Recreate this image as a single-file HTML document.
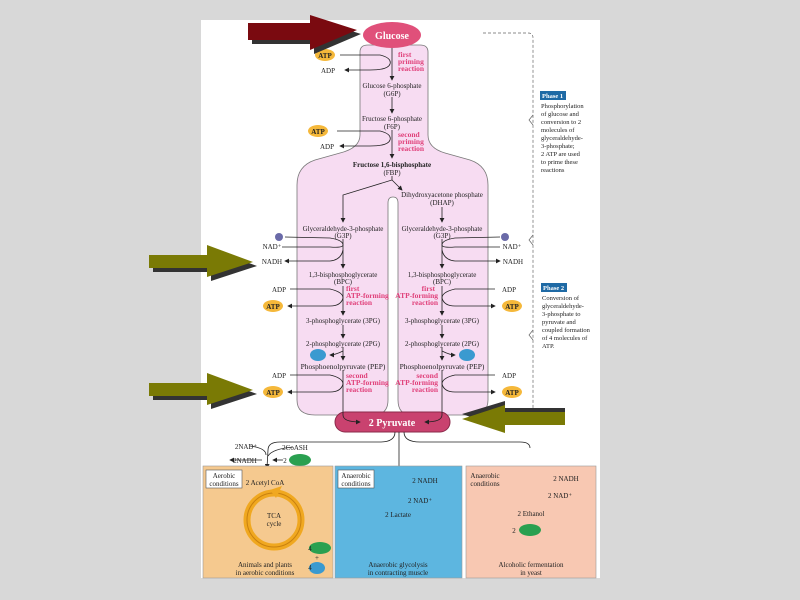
<!DOCTYPE html>
<html><head><meta charset="utf-8"><style>
html,body{margin:0;padding:0;background:#d9d9d9;}
svg{display:block;}
text{font-family:"Liberation Serif",serif;}
</style></head><body>
<svg width="800" height="600" viewBox="0 0 800 600" xmlns="http://www.w3.org/2000/svg">
<defs>
<marker id="ah" markerWidth="6" markerHeight="6" refX="5" refY="3" orient="auto"><path d="M0,0 L6,3 L0,6z" fill="#222"/></marker>
</defs>
<rect width="800" height="600" fill="#d8d8d8"/>
<rect x="201" y="20" width="399" height="558" fill="#fff"/>
<path d="M360,52 Q360,45 368,45 L420,45 Q428,45 428,52 L428,135 Q428,148 445,153 L470,160 Q488,166 488,185 L488,400 Q488,415 470,415 L412,415 Q398,415 398,400 L398,203 Q398,197 393,197 Q388,197 388,203 L388,400 Q388,415 373,415 L315,415 Q297,415 297,400 L297,185 Q297,166 315,160 L340,153 Q360,148 360,135 Z" fill="#f7dcf2" stroke="#777" stroke-width="0.8"/>
<path d="M483,33 L528,33 Q533,33 533,38 L533,410" fill="none" stroke="#666" stroke-width="0.7" stroke-dasharray="3,2"/>
<path d="M533,115 L529,120 L533,125 M533,235 L529,240 L533,245 M533,330 L529,335 L533,340" fill="none" stroke="#666" stroke-width="0.7"/>
<ellipse cx="392" cy="35" rx="29" ry="13" fill="#e0507a"/>
<text x="392" y="39" font-size="10" fill="#fff" text-anchor="middle" font-weight="bold">Glucose</text>
<rect x="335" y="412" width="115" height="20" rx="10" fill="#c9426f" stroke="#8a2a4a"/>
<text x="392" y="426" font-size="10" fill="#fff" text-anchor="middle" font-weight="bold">2 Pyruvate</text>
<g stroke="#222" stroke-width="0.8" fill="none">
<line x1="392" y1="48" x2="392" y2="80" marker-end="url(#ah)"/>
<line x1="392" y1="97" x2="392" y2="113" marker-end="url(#ah)"/>
<line x1="392" y1="130" x2="392" y2="158" marker-end="url(#ah)"/>
<path d="M392,176 L392,180 L343,195 L343,222" marker-end="url(#ah)"/>
<path d="M392,180 L402,190" marker-end="url(#ah)"/>
<line x1="442" y1="207" x2="442" y2="222" marker-end="url(#ah)"/>
<line x1="343" y1="239" x2="343" y2="268" marker-end="url(#ah)"/>
<line x1="442" y1="239" x2="442" y2="268" marker-end="url(#ah)"/>
<line x1="343" y1="286" x2="343" y2="315" marker-end="url(#ah)"/>
<line x1="442" y1="286" x2="442" y2="315" marker-end="url(#ah)"/>
<line x1="343" y1="325" x2="343" y2="338" marker-end="url(#ah)"/>
<line x1="442" y1="325" x2="442" y2="338" marker-end="url(#ah)"/>
<line x1="343" y1="347" x2="343" y2="360" marker-end="url(#ah)"/>
<line x1="442" y1="347" x2="442" y2="360" marker-end="url(#ah)"/>
<path d="M343,370 L343,415 Q343,422 360,422" marker-end="url(#ah)"/>
<path d="M442,370 L442,415 Q442,422 425,422" marker-end="url(#ah)"/>
<path d="M340,55 L380,55 Q392,58 390,64 Q388,70 370,70 L345,70" marker-end="url(#ah)"/>
<path d="M337,131 L380,131 Q392,134 390,140 Q388,146 370,146 L340,146" marker-end="url(#ah)"/>
<path d="M285,237 L330,238 Q343,240 343,245 Q343,248 330,247 L282,247" />
<path d="M343,250 Q341,260 330,261 L285,261" marker-end="url(#ah)"/>
<path d="M500,237 L455,238 Q442,240 442,245 Q442,248 455,247 L500,247"/>
<path d="M442,250 Q444,260 455,261 L500,261" marker-end="url(#ah)"/>
<path d="M290,289 L330,289 Q343,292 343,298 Q341,306 330,306 L288,306" marker-end="url(#ah)"/>
<path d="M495,289 L455,289 Q442,292 442,298 Q444,306 455,306 L495,306" marker-end="url(#ah)"/>
<path d="M343,351 Q335,355 330,355" marker-end="url(#ah)"/>
<path d="M442,351 Q450,355 455,355" marker-end="url(#ah)"/>
<path d="M290,375 L330,375 Q343,378 343,384 Q341,392 330,392 L288,392" marker-end="url(#ah)"/>
<path d="M495,375 L455,375 Q442,378 442,384 Q444,392 455,392 L495,392" marker-end="url(#ah)"/>
<line x1="399" y1="432" x2="399" y2="512" marker-end="url(#ah)"/>
<path d="M395,432 Q395,442 380,442 L280,442 Q268,442 268,450 L267,468" marker-end="url(#ah)"/>
<path d="M404,432 Q404,442 420,442 L520,442 Q530,442 530,448"/>
<path d="M250,446 Q266,448 266,455 M293,447 Q272,449 268,456"/>
<path d="M262,460 L230,460" marker-end="url(#ah)"/>
<path d="M283,460 L273,460" marker-end="url(#ah)"/>
<path d="M415,482 Q400,486 398,492 Q398,500 410,500" marker-end="url(#ah)"/>
<path d="M550,478 Q530,480 530,490 Q532,494 540,495" marker-end="url(#ah)"/>
<line x1="530" y1="500" x2="530" y2="507" marker-end="url(#ah)"/>
</g>
<g font-size="7.5" fill="#e0407a" font-weight="bold">
<text x="398" y="57">first</text><text x="398" y="64">priming</text><text x="398" y="71">reaction</text>
<text x="398" y="137">second</text><text x="398" y="144">priming</text><text x="398" y="151">reaction</text>
<text x="346" y="291">first</text><text x="346" y="298">ATP-forming</text><text x="346" y="305">reaction</text>
<text x="435" y="291" text-anchor="end">first</text><text x="438" y="298" text-anchor="end">ATP-forming</text><text x="438" y="305" text-anchor="end">reaction</text>
<text x="346" y="378">second</text><text x="346" y="385">ATP-forming</text><text x="346" y="392">reaction</text>
<text x="438" y="378" text-anchor="end">second</text><text x="438" y="385" text-anchor="end">ATP-forming</text><text x="438" y="392" text-anchor="end">reaction</text>
</g>
<g font-size="7" fill="#222" text-anchor="middle">
<text x="392" y="88">Glucose 6-phosphate</text><text x="392" y="96">(G6P)</text>
<text x="392" y="121">Fructose 6-phosphate</text><text x="392" y="129">(F6P)</text>
<text x="392" y="167" font-weight="bold">Fructose 1,6-bisphosphate</text><text x="392" y="175">(FBP)</text>
<text x="442" y="197">Dihydroxyacetone phosphate</text><text x="442" y="205">(DHAP)</text>
<text x="343" y="231">Glyceraldehyde-3-phosphate</text><text x="343" y="238">(G3P)</text>
<text x="442" y="231">Glyceraldehyde-3-phosphate</text><text x="442" y="238">(G3P)</text>
<text x="343" y="277">1,3-bisphosphoglycerate</text><text x="343" y="284">(BPC)</text>
<text x="442" y="277">1,3-bisphosphoglycerate</text><text x="442" y="284">(BPC)</text>
<text x="343" y="323">3-phosphoglycerate (3PG)</text>
<text x="442" y="323">3-phosphoglycerate (3PG)</text>
<text x="343" y="346">2-phosphoglycerate (2PG)</text>
<text x="442" y="346">2-phosphoglycerate (2PG)</text>
<text x="343" y="369" font-size="7.5">Phosphoenolpyruvate (PEP)</text>
<text x="442" y="369" font-size="7.5">Phosphoenolpyruvate (PEP)</text>
<text x="328" y="73">ADP</text><text x="327" y="149">ADP</text>
<text x="272" y="249">NAD⁺</text><text x="272" y="264">NADH</text>
<text x="512" y="249">NAD⁺</text><text x="513" y="264">NADH</text>
<text x="279" y="292">ADP</text><text x="509" y="292">ADP</text>
<text x="279" y="378">ADP</text><text x="509" y="378">ADP</text>
<text x="246" y="449">2NAD⁺</text><text x="295" y="450">2CoASH</text><text x="245" y="463">2NADH</text><text x="285" y="463">2</text>
</g>
<g font-size="7" fill="#222" text-anchor="middle" font-weight="bold">
<ellipse cx="325" cy="55" rx="10" ry="6" fill="#f5b83a"/><text x="325" y="58">ATP</text>
<ellipse cx="318" cy="131" rx="10" ry="6" fill="#f5b83a"/><text x="318" y="134">ATP</text>
<ellipse cx="273" cy="306" rx="10" ry="6" fill="#f5b83a"/><text x="273" y="309">ATP</text>
<ellipse cx="512" cy="306" rx="10" ry="6" fill="#f5b83a"/><text x="512" y="309">ATP</text>
<ellipse cx="273" cy="392" rx="10" ry="6" fill="#f5b83a"/><text x="273" y="395">ATP</text>
<ellipse cx="512" cy="392" rx="10" ry="6" fill="#f5b83a"/><text x="512" y="395">ATP</text>
</g>
<circle cx="279" cy="237" r="4" fill="#6a6aa8"/><circle cx="505" cy="237" r="4" fill="#6a6aa8"/>
<ellipse cx="318" cy="355" rx="8" ry="6" fill="#3a9ad0"/><ellipse cx="467" cy="355" rx="8" ry="6" fill="#3a9ad0"/>
<ellipse cx="300" cy="460" rx="11" ry="6" fill="#2aa050"/>
<rect x="203" y="466" width="130" height="112" fill="#f5c98f" stroke="#999" stroke-width="0.6"/>
<rect x="335" y="466" width="127" height="112" fill="#5db6e0" stroke="#999" stroke-width="0.6"/>
<rect x="466" y="466" width="130" height="112" fill="#f8c8b2" stroke="#999" stroke-width="0.6"/>
<rect x="206" y="470" width="36" height="18" fill="#fff" stroke="#555" stroke-width="0.6"/>
<rect x="338" y="470" width="36" height="18" fill="#fff" stroke="#555" stroke-width="0.6"/>
<circle cx="274" cy="520" r="27" fill="none" stroke="#f0a820" stroke-width="7"/>
<circle cx="274" cy="520" r="27" fill="none" stroke="#c88010" stroke-width="1"/>
<path d="M270,490 L282,486 L276,498z" fill="#f0a820"/>
<ellipse cx="320" cy="548" rx="11" ry="6" fill="#2aa050"/>
<ellipse cx="317" cy="568" rx="8" ry="6" fill="#3a9ad0"/>
<ellipse cx="530" cy="530" rx="11" ry="6" fill="#2aa050"/>
<g font-size="7" fill="#222" text-anchor="middle">
<text x="224" y="478">Aerobic</text><text x="224" y="486">conditions</text>
<text x="356" y="478">Anaerobic</text><text x="356" y="486">conditions</text>
<text x="485" y="478">Anaerobic</text><text x="485" y="486">conditions</text>
<text x="265" y="485">2 Acetyl CoA</text>
<text x="274" y="518">TCA</text><text x="274" y="526">cycle</text>
<text x="310" y="551">4</text><text x="310" y="570">4</text><text x="317" y="560">+</text>
<text x="265" y="567">Animals and plants</text><text x="265" y="575">in aerobic conditions</text>
<text x="425" y="483">2 NADH</text><text x="420" y="503">2 NAD⁺</text>
<text x="398" y="517">2 Lactate</text>
<text x="398" y="567">Anaerobic glycolysis</text><text x="398" y="575">in contracting muscle</text>
<text x="566" y="481">2 NADH</text><text x="560" y="498">2 NAD⁺</text>
<text x="531" y="516">2 Ethanol</text><text x="514" y="533">2</text>
<text x="531" y="567">Alcoholic fermentation</text><text x="531" y="575">in yeast</text>
</g>
<rect x="540" y="91" width="26" height="9" fill="#1f6aa5"/>
<text x="542" y="98" font-size="6.5" fill="#fff" font-weight="bold">Phase 1</text>
<g font-size="6.5" fill="#222">
<text x="541" y="108">Phosphorylation</text><text x="541" y="116">of glucose and</text><text x="541" y="124">conversion to 2</text><text x="541" y="132">molecules of</text><text x="541" y="140">glyceraldehyde-</text><text x="541" y="148">3-phosphate;</text><text x="541" y="156">2 ATP are used</text><text x="541" y="164">to prime these</text><text x="541" y="172">reactions</text>
</g>
<rect x="541" y="283" width="26" height="9" fill="#1f6aa5"/>
<text x="543" y="290" font-size="6.5" fill="#fff" font-weight="bold">Phase 2</text>
<g font-size="6.5" fill="#222">
<text x="542" y="300">Conversion of</text><text x="542" y="308">glyceraldehyde-</text><text x="542" y="316">3-phosphate to</text><text x="542" y="324">pyruvate and</text><text x="542" y="332">coupled formation</text><text x="542" y="340">of 4 molecules of</text><text x="542" y="348">ATP.</text>
</g>
<path d="M252,27 L314,27 L314,19 L361,34 L314,54 L314,44 L252,44z" fill="#333"/>
<path d="M248,23 L310,23 L310,15 L357,30 L310,50 L310,40 L248,40z" fill="#7a0a10"/>
<path d="M153,259 L211,259 L211,249 L257,266 L211,281 L211,272 L153,272z" fill="#333"/>
<path d="M149,255 L207,255 L207,245 L253,262 L207,277 L207,268 L149,268z" fill="#7a7a05"/>
<path d="M153,387 L211,387 L211,377 L257,394 L211,409 L211,400 L153,400z" fill="#333"/>
<path d="M149,383 L207,383 L207,373 L253,390 L207,405 L207,396 L149,396z" fill="#7a7a05"/>
<path d="M462,414 L505,401 L505,408 L565,408 L565,421 L505,421 L505,429z" fill="#333"/>
<path d="M462,419 L505,405 L505,412 L565,412 L565,425 L505,425 L505,433z" fill="#7a7a05"/>
</svg>
</body></html>
